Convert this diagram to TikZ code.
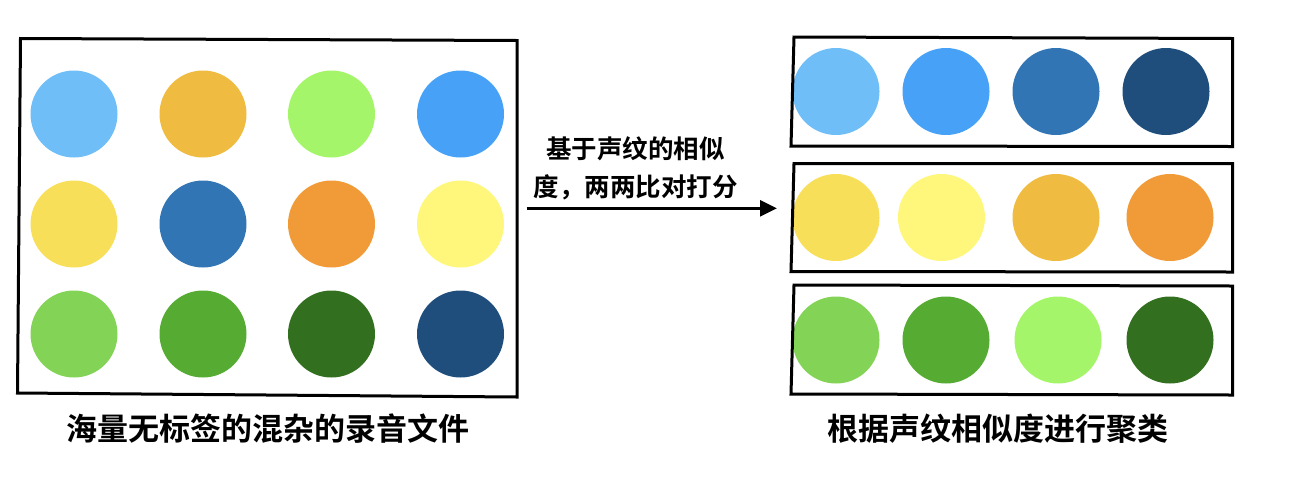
\documentclass[tikz,border=0pt]{standalone}
\usepackage{fontspec}
\newfontfamily\cjk{Noto Sans CJK SC}[BoldFont={Noto Sans CJK SC Bold}]
\usetikzlibrary{arrows.meta}
\definecolor{cLB}{HTML}{70BEF8}
\definecolor{cGold}{HTML}{EFBB40}
\definecolor{cLG}{HTML}{A5F56A}
\definecolor{cB}{HTML}{47A2F7}
\definecolor{cY}{HTML}{F7DF5A}
\definecolor{cMB}{HTML}{3275B4}
\definecolor{cOr}{HTML}{F09A38}
\definecolor{cPY}{HTML}{FEF77C}
\definecolor{cG1}{HTML}{83D356}
\definecolor{cG2}{HTML}{56AC33}
\definecolor{cDG}{HTML}{326F1F}
\definecolor{cNv}{HTML}{1F4E7D}
\tikzset{
  dot/.style={circle, inner sep=0pt, minimum size=87pt, fill=#1, draw=none},
  frame/.style={draw=black, line width=3pt, line join=miter},
  lbl/.style={font=\cjk\bfseries\fontsize{31}{36}\selectfont, inner sep=0pt},
  arrlbl/.style={font=\cjk\bfseries\fontsize{25.5}{38}\selectfont, align=center, inner sep=0pt},
  conn/.style={line width=2.8pt, -{Triangle[length=17pt,width=16pt]}}
}
\begin{document}
\begin{tikzpicture}[x=1pt,y=-1pt]
\useasboundingbox (0,0) rectangle (1300,496);
% left frame
\draw[frame] (20.5,38.5) -- (517,40.5) -- (517,397) -- (17.5,393) -- cycle;
% left circles
\node[dot=cLB]   (l11) at (74,114) {};
\node[dot=cGold] (l12) at (203,114) {};
\node[dot=cLG]   (l13) at (331.5,114) {};
\node[dot=cB]    (l14) at (460.5,114) {};
\node[dot=cY]    (l21) at (74,224) {};
\node[dot=cMB]   (l22) at (203,224) {};
\node[dot=cOr]   (l23) at (331.5,224) {};
\node[dot=cPY]   (l24) at (460.5,224) {};
\node[dot=cG1]   (l31) at (74,334) {};
\node[dot=cG2]   (l32) at (203,334) {};
\node[dot=cDG]   (l33) at (331.5,334) {};
\node[dot=cNv]   (l34) at (460.5,334) {};
% right circles
\node[dot=cLB]   (r11) at (836,91.5) {};
\node[dot=cB]    (r12) at (946,91.5) {};
\node[dot=cMB]   (r13) at (1056,91.5) {};
\node[dot=cNv]   (r14) at (1166,91.5) {};
\node[dot=cY]    (r21) at (836,217.5) {};
\node[dot=cPY]   (r22) at (941.5,217.5) {};
\node[dot=cGold] (r23) at (1056,217.5) {};
\node[dot=cOr]   (r24) at (1170,217.5) {};
\node[dot=cG1]   (r31) at (836,340) {};
\node[dot=cG2]   (r32) at (946,340) {};
\node[dot=cLG]   (r33) at (1058,340) {};
\node[dot=cDG]   (r34) at (1170,340) {};
% right frames
\draw[frame] (794,37) -- (1232.5,38.5) -- (1232.5,146.5) -- (791,146) -- cycle;
\draw[frame] (794,163.5) -- (1232.5,163.5) -- (1232.5,272) -- (791,271.5) -- cycle;
\draw[frame] (794,285) -- (1232.5,286) -- (1232.5,395) -- (791,394) -- cycle;
% arrow
\coordinate (as) at (526.5,208.3);
\coordinate (ae) at (777,208.3);
\draw[conn] (as) -- (ae);
\node[arrlbl] (albl) at (635.5,168.5) {基于声纹的相似\\度，两两比对打分};
% captions
\node[lbl] (capL) at (267.8,428.5) {海量无标签的混杂的录音文件};
\node[lbl] (capR) at (998.3,428.5) {根据声纹相似度进行聚类};
\end{tikzpicture}
\end{document}
